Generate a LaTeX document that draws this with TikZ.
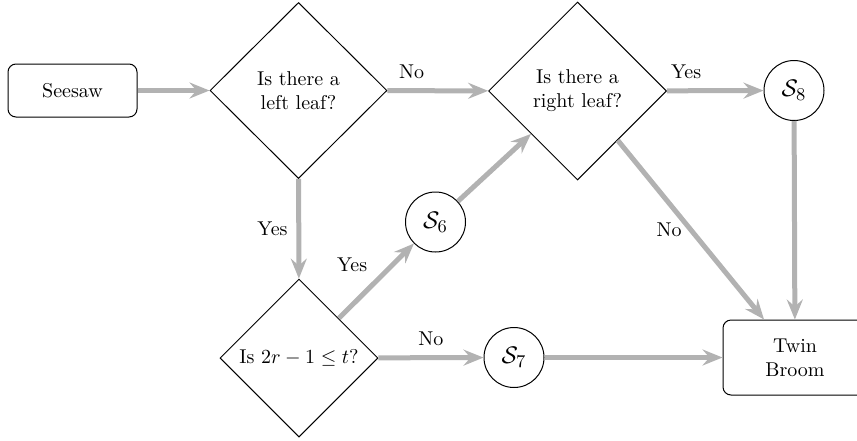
\documentclass[tikz,border=0pt]{standalone}
\usetikzlibrary{shapes.geometric,arrows.meta}
\begin{document}
\begin{tikzpicture}[x=0.5pt,y=-0.5pt,
  boxnode/.style={draw,rounded corners=4pt,line width=0.5pt,align=center,inner sep=0pt},
  decision/.style={draw,diamond,aspect=1,line width=0.5pt,align=center,inner sep=0pt},
  statenode/.style={draw,circle,line width=0.5pt,minimum size=30pt,inner sep=0pt,font=\fontsize{13}{15}\selectfont},
  flow/.style={draw=black!30,line width=2.5pt,-{Stealth[length=10pt,width=8pt,inset=3.5pt]}},
  lbl/.style={font=\normalsize}]
\useasboundingbox (0,0) rectangle (857,440);
\clip (0,0) rectangle (857,440);
\node[boxnode,minimum width=64.5pt,minimum height=26.5pt] (seesaw) at (72.5,90.5) {Seesaw};
\node[decision,minimum width=88.5pt,minimum height=88pt] (left) at (298.5,90.5) {Is there a\\left leaf?};
\node[decision,minimum width=89pt,minimum height=89pt] (right) at (577.5,91) {Is there a\\right leaf?};
\node[decision,minimum width=79pt,minimum height=79pt] (ineq) at (299,358) {Is $2r-1\leq t$?};
\node[statenode] (s8) at (794,90.5) {$\mathcal{S}_8$};
\node[statenode] (s6) at (435.5,222) {$\mathcal{S}_6$};
\node[statenode] (s7) at (514,357.5) {$\mathcal{S}_7$};
\node[boxnode,minimum width=72pt,minimum height=37.5pt] (twin) at (795,357.5) {Twin\\Broom};
\draw[flow] (seesaw) -- (left);
\draw[flow] (left) -- node[lbl,pos=0.24,above=1.5pt]{No} (right);
\draw[flow] (right) -- node[lbl,pos=0.2,above=1.5pt]{Yes} (s8);
\draw[flow] (left) -- node[lbl,pos=0.5,left=1pt]{Yes} (ineq);
\draw[flow] (ineq) -- node[lbl,pos=0.5,above left=0pt]{Yes} (s6);
\draw[flow] (s6) -- (right);
\draw[flow] (ineq) -- node[lbl,pos=0.5,above=1.5pt]{No} (s7);
\draw[flow] (right) -- node[lbl,pos=0.5,left=0pt]{No} (twin);
\draw[flow] (s8) -- (twin);
\draw[flow] (s7) -- (twin);
\end{tikzpicture}
\end{document}
